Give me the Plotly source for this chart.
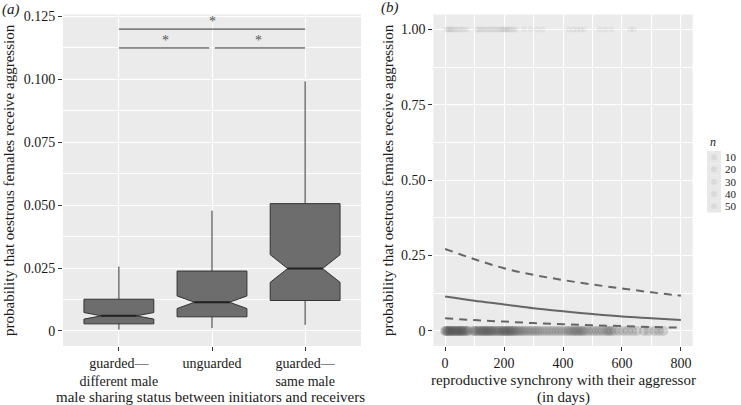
import plotly.graph_objects as go

# ---------------- data ----------------
# panel (a): box plot summaries
categories = ["guarded—<br>different male", "unguarded", "guarded—<br>same male"]
box_lower = [0.0005, 0.0011, 0.0024]
box_q1 = [0.0028, 0.0056, 0.0121]
box_median = [0.0060, 0.0114, 0.0248]
box_q3 = [0.0126, 0.0238, 0.0506]
box_upper = [0.0256, 0.0478, 0.0992]
box_notchspan = [0.0013, 0.0025, 0.0055]
left_ticks = [0, 0.025, 0.05, 0.075, 0.1, 0.125]
left_ticktext = ["0", "0.025", "0.050", "0.075", "0.100", "0.125"]
# significance brackets: (from category, to category, level)
sig_pairs = [(0, 2, 0.120), (0, 1, 0.1125), (1, 2, 0.1125)]

# panel (b): model fit and observations
fit_x = [0, 100, 200, 300, 400, 500, 600, 700, 800]
fit_mean = [0.114, 0.100, 0.088, 0.075, 0.065, 0.056, 0.048, 0.042, 0.036]
fit_upper = [0.272, 0.238, 0.208, 0.186, 0.169, 0.154, 0.141, 0.128, 0.117]
fit_lower = [0.042, 0.036, 0.031, 0.026, 0.022, 0.019, 0.016, 0.013, 0.011]
obs_zero_x = [0, 3, 6, 9, 12, 15, 18, 21, 25, 28, 31, 35, 38, 42, 45, 48, 52, 55, 58,
              62, 66, 70, 75, 80, 95, 100, 105, 110, 115, 120, 124, 128, 132, 136, 140,
              144, 148, 152, 156, 160, 165, 170, 175, 180, 185, 190, 195, 198, 202, 206,
              210, 214, 218, 222, 226, 230, 235, 240, 246, 252, 258, 265, 272, 280, 288,
              296, 304, 312, 320, 330, 340, 350, 360, 370, 380, 390, 400, 410, 418, 425,
              432, 438, 444, 450, 456, 462, 468, 475, 485, 495, 505, 515, 525, 535, 545,
              552, 558, 565, 575, 590, 605, 620, 635, 650, 675, 690, 710, 725, 740]
obs_one_x = [5, 10, 15, 20, 26, 32, 40, 48, 56, 64, 75, 108, 115, 122, 130, 138, 146,
             154, 162, 170, 178, 185, 192, 197, 202, 207, 212, 218, 224, 232, 240, 268,
             290, 312, 330, 420, 435, 448, 460, 472, 525, 545, 565, 628, 640]
right_ticks = [0, 0.25, 0.5, 0.75, 1.0]
right_ticktext = ["0", "0.25", "0.50", "0.75", "1.00"]
x_ticks = [0, 200, 400, 600, 800]
legend_n = ["10", "20", "30", "40", "50"]

# ---------------- figure ----------------
W, H = 741, 405
FONT = "Liberation Serif, Times New Roman, serif"
TXT = "#1a1a1a"


def px(x):
    return x / W


def py(y):
    return 1 - y / H


fig = go.Figure()

# panel (a) boxes
fig.add_trace(go.Box(
    x=list(range(len(categories))), q1=box_q1, median=box_median, q3=box_q3,
    lowerfence=box_lower, upperfence=box_upper, notchspan=box_notchspan,
    notched=True, notchwidth=0.25, width=0.75, whiskerwidth=0, boxpoints=False,
    fillcolor="#6d6d6d", line=dict(color="#333333", width=1),
    xaxis="x", yaxis="y", showlegend=False, hoverinfo="skip"))

# thicker median lines
for i, m in enumerate(box_median):
    fig.add_trace(go.Scatter(x=[i - 0.19, i + 0.19], y=[m, m], mode="lines",
                             line=dict(color="#222222", width=2),
                             xaxis="x", yaxis="y", showlegend=False, hoverinfo="skip"))

shapes = []
annotations = []
for a, b, lvl in sig_pairs:
    x0 = a + (0.03 if (b - a == 1 and a == 1) else 0)
    x1 = b - (0.03 if (b - a == 1 and b == 1) else 0)
    shapes.append(dict(type="line", xref="x", yref="y", x0=x0, x1=x1, y0=lvl, y1=lvl,
                       line=dict(color="#333333", width=1)))
    annotations.append(dict(xref="x", yref="y", x=(a + b) / 2, y=lvl, text="*",
                            showarrow=False, yanchor="bottom", yshift=-2,
                            font=dict(family=FONT, size=14, color="#555555")))

# panel (b) observations
fig.add_trace(go.Scatter(x=obs_zero_x, y=[0] * len(obs_zero_x), mode="markers",
                         marker=dict(color="#4a4a4a", size=10, opacity=0.2, line=dict(width=0)),
                         xaxis="x2", yaxis="y2", showlegend=False, hoverinfo="skip"))
fig.add_trace(go.Scatter(x=obs_one_x, y=[1] * len(obs_one_x), mode="markers",
                         marker=dict(color="#4a4a4a", size=6, opacity=0.06, line=dict(width=0)),
                         xaxis="x2", yaxis="y2", showlegend=False, hoverinfo="skip"))
# fitted lines
for ys, dash in [(fit_upper, "8px,6px"), (fit_lower, "8px,6px"), (fit_mean, "solid")]:
    fig.add_trace(go.Scatter(x=fit_x, y=ys, mode="lines", line_shape="spline",
                             line=dict(color="#666666", width=2, dash=dash),
                             xaxis="x2", yaxis="y2", showlegend=False, hoverinfo="skip"))

axis_common = dict(showline=False, zeroline=False, ticks="outside", ticklen=4,
                   tickcolor="#333333", tickwidth=1, gridcolor="white", gridwidth=1.1,
                   automargin=False,
                   tickfont=dict(family=FONT, size=14, color=TXT))

yd = [py(346), py(14.5)]
fig.update_layout(
    width=W, height=H, margin=dict(l=0, r=0, t=0, b=0, autoexpand=False),
    paper_bgcolor="white", plot_bgcolor="#EBEBEB",
    xaxis=dict(domain=[px(63), px(361)], range=[-0.6, 2.6], tickmode="array",
               tickvals=list(range(len(categories))), ticktext=categories, **axis_common),
    yaxis=dict(domain=yd, range=[-0.006, 0.1258], tickmode="array",
               tickvals=left_ticks, ticktext=left_ticktext,
               minor=dict(tickmode="array", tickvals=[0.0125, 0.0375, 0.0625, 0.0875, 0.1125],
                          showgrid=True, gridcolor="white", gridwidth=0.5, ticks=""),
               **axis_common),
    xaxis2=dict(domain=[px(433.3), px(692.7)], range=[-40, 840], anchor="y2",
                tickmode="array", tickvals=x_ticks,
                minor=dict(tickmode="array", tickvals=[100, 300, 500, 700],
                           showgrid=True, gridcolor="white", gridwidth=0.5, ticks=""),
                **axis_common),
    yaxis2=dict(domain=yd, range=[-0.05, 1.05], anchor="x2", tickmode="array",
                tickvals=right_ticks, ticktext=right_ticktext,
                minor=dict(tickmode="array", tickvals=[0.125, 0.375, 0.625, 0.875],
                           showgrid=True, gridcolor="white", gridwidth=0.5, ticks=""),
                **axis_common),
)

# panel letters and axis titles
def label(text, x, y, size=15, angle=0, italic=False, xanchor="center"):
    annotations.append(dict(xref="paper", yref="paper", x=px(x), y=py(y), text=text,
                            showarrow=False, textangle=angle, xanchor=xanchor,
                            yanchor="middle",
                            font=dict(family=FONT, size=size, color=TXT,
                                      style="italic" if italic else "normal")))


label("(a)", 11, 9, italic=True)
label("(b)", 390, 8, italic=True)
label("probability that oestrous females receive aggression", 9, 180, angle=-90)
label("probability that oestrous females receive aggression", 388, 180, angle=-90)
label("male sharing status between initiators and receivers", 210, 397)
label("reproductive synchrony with their aggressor", 563, 380)
label("(in days)", 563, 397)

# legend for n
label("n", 708, 142, size=12, italic=True, xanchor="left")
key_top, key_h = 151, 12.3
for i, t in enumerate(legend_n):
    y0 = key_top + i * key_h
    shapes.append(dict(type="rect", xref="paper", yref="paper", x0=px(707), x1=px(721),
                       y0=py(y0 + key_h), y1=py(y0), fillcolor="#E8E8E8",
                       line=dict(width=0)))
    cy = y0 + key_h / 2
    shapes.append(dict(type="circle", xref="paper", yref="paper", x0=px(711), x1=px(717),
                       y0=py(cy + 3), y1=py(cy - 3), fillcolor="rgba(120,120,120,0.12)",
                       line=dict(width=0)))
    label(t, 723, cy, size=11, xanchor="left")

fig.update_layout(shapes=shapes, annotations=annotations)
fig.write_html("out.html", config={"displayModeBar": False},
               post_script="document.body.style.margin='0';")
